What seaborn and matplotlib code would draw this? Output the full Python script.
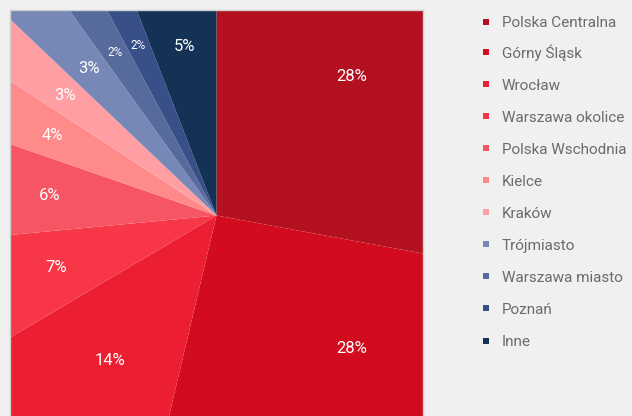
import numpy as np
import matplotlib
matplotlib.use("Agg")
import matplotlib.pyplot as plt
from matplotlib.lines import Line2D
import seaborn as sns

# ---- data ----
regions = ["Polska Centralna", "Górny Śląsk", "Wrocław", "Warszawa okolice",
           "Polska Wschodnia", "Kielce", "Kraków", "Trójmiasto",
           "Warszawa miasto", "Poznań", "Inne"]
shares = [27.9, 25.8, 12.8, 7.0, 6.8, 3.9, 2.9, 3.0, 2.1, 1.9, 5.9]
pct_labels = ["28%", "28%", "14%", "7%", "6%", "4%", "3%", "3%", "2%", "2%", "5%"]
colors = ["#b31020", "#d20c1e", "#ec1e31", "#f73647", "#f65663", "#ff8a8a",
          "#ff9ea3", "#7788b6", "#566b9c", "#394f88", "#143156"]

# ---- styling ----
sns.set_theme(style="white")
plt.rcParams["font.family"] = ["Roboto", "DejaVu Sans"]
BG = "#f0f0f0"

W, H = 632, 416
fig = plt.figure(figsize=(W / 100, H / 100), dpi=100, facecolor=BG)
ax = fig.add_axes([10.5 / W, (H - 421.5) / H, 412 / W, 412 / H])

wedges, _ = ax.pie(shares, colors=colors, radius=2, startangle=90,
                   counterclock=False, wedgeprops=dict(linewidth=0))
for w in wedges:
    w.set_clip_on(True)
    w.set_clip_path(ax.patch)
ax.set_xlim(-1, 1)
ax.set_ylim(-1, 1)
ax.set_aspect("equal")
ax.set_frame_on(True)
for sp in ax.spines.values():
    sp.set_color("#cfcfcf")
    sp.set_linewidth(1)
    sp.set_zorder(5)

# percentage labels
label_r = [0.94, 0.92, 0.874, 0.82, 0.818, 0.885, 0.94, 0.943, 0.929, 0.907, 0.837]
label_fs = [12, 12, 12, 12, 12, 12, 12, 12, 8.5, 8.5, 12]
angle_override = {0: 45.8, 1: -44.5}
for i, w in enumerate(wedges):
    ang = angle_override.get(i, (w.theta1 + w.theta2) / 2)
    a = np.deg2rad(ang)
    ax.text(label_r[i] * np.cos(a), label_r[i] * np.sin(a), pct_labels[i],
            ha="center", va="center", color="white", fontsize=label_fs[i])

# legend (split in two so the accented row does not stretch the spacing)
handles = [Line2D([], [], marker="s", linestyle="", color=c, markersize=5,
                  markeredgewidth=0) for c in colors]
leg_kw = dict(loc="upper left", frameon=False, fontsize=11,
              labelcolor="#6b6b6b", handlelength=0.7, handletextpad=0.7,
              labelspacing=1.18, borderpad=0, borderaxespad=0)
fig.legend(handles[:1], regions[:1],
           bbox_to_anchor=(480.6 / W, 1 - 16.1 / H), **leg_kw)
fig.legend(handles[1:], regions[1:],
           bbox_to_anchor=(480.6 / W, 1 - 44.1 / H), **leg_kw)

fig.savefig("out.png", dpi=100, facecolor=BG)
